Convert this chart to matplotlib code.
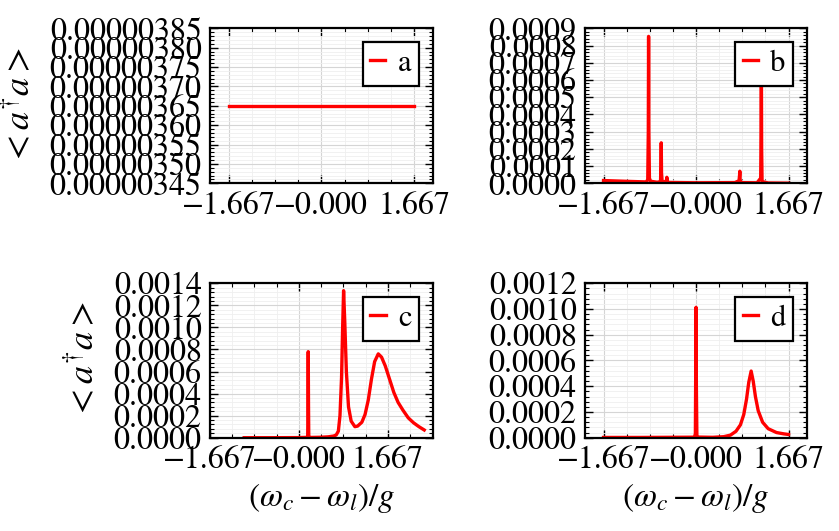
import matplotlib
matplotlib.use("Agg")
import matplotlib.pyplot as plt
from matplotlib.ticker import MultipleLocator, AutoMinorLocator, FormatStrFormatter

plt.rcParams['font.family'] = ['STIXGeneral', 'DejaVu Serif']
plt.rcParams['mathtext.fontset'] = 'stix'
plt.rcParams['font.size'] = 23

# x tick labels shared by all panels
xtick_pos = [-5/3, 0, 5/3]
xtick_labels = ['\u22121.667', '\u22120.000', '1.667']

# panel a: flat
xa = [-1.667, 1.667]
ya = [3.65e-6, 3.65e-6]

# panel b: narrow peaks
xb = [-1.667, -1.2, -0.9, -0.87, -0.86, -0.855, -0.85, -0.84, -0.82, -0.7,
      -0.64, -0.632, -0.627, -0.622, -0.61, -0.55, -0.53, -0.526, -0.52, -0.5,
      0.0, 0.7, 0.775, 0.785, 0.789, 0.795, 0.81, 1.1, 1.165, 1.172,
      1.177, 1.182, 1.19, 1.3, 1.667]
yb = [1.6e-5, 1.1e-5, 8e-6, 2e-5, 3e-4, 8.53e-4, 3e-4, 3e-5, 1.2e-5, 6e-6,
      1e-5, 1e-4, 2.35e-4, 6e-5, 8e-6, 1e-5, 2e-5, 3.5e-5, 1.5e-5, 5e-6,
      3e-6, 4e-6, 1.5e-5, 5e-5, 7e-5, 2e-5, 4e-6, 3e-6, 3e-5, 3e-4,
      7.5e-4, 2e-4, 1e-5, 2e-6, 1e-6]

# panel c
xc = [-1.026, -0.5, 0.0, 0.14, 0.165, 0.17, 0.175, 0.18, 0.185, 0.19,
      0.4, 0.55, 0.65, 0.70, 0.74, 0.77, 0.80, 0.82, 0.838, 0.86,
      0.89, 0.93, 0.98, 1.05, 1.1, 1.18, 1.24, 1.30, 1.36, 1.42,
      1.488, 1.55, 1.62, 1.70, 1.78, 1.86, 1.95, 2.05, 2.15, 2.25, 2.35]
yc = [0.0, 0.0, 1e-6, 3e-6, 5e-6, 3e-4, 7.8e-4, 3e-4, 1e-5, 2e-6,
      4e-6, 8e-6, 1.5e-5, 2.5e-5, 6e-5, 2.0e-4, 5.5e-4, 1.0e-3, 1.333e-3, 1.05e-3,
      6.0e-4, 2.8e-4, 1.5e-4, 1.0e-4, 1.05e-4, 1.4e-4, 2.1e-4, 3.4e-4, 5.3e-4, 6.9e-4,
      7.6e-4, 7.3e-4, 6.5e-4, 5.3e-4, 4.1e-4, 3.2e-4, 2.5e-4, 1.8e-4, 1.35e-4, 1.0e-4, 7e-5]

# panel d
xd = [-1.667, -1.0, -0.5, -0.03, -0.012, -0.006, 0.0, 0.006, 0.015, 0.03,
      0.3, 0.5, 0.62, 0.72, 0.8, 0.86, 0.91, 0.95, 0.993, 1.03,
      1.07, 1.12, 1.2, 1.3, 1.45, 1.58, 1.667]
yd = [2e-6, 2e-6, 3e-6, 4e-6, 3e-5, 5e-4, 1.013e-3, 4e-4, 2e-5, 5e-6,
      3e-6, 8e-6, 2.0e-5, 5.0e-5, 1.0e-4, 1.8e-4, 3.0e-4, 4.3e-4, 5.18e-4, 4.4e-4,
      3.2e-4, 2.1e-4, 1.2e-4, 7e-5, 4e-5, 3e-5, 2.5e-5]

fig = plt.figure(figsize=(8.39, 5.31), dpi=100)

panels = [
    # rect, x, y, label, xlim, ylim, ystep, yfmt
    ([0.2503, 0.6548, 0.2654, 0.2919], xa, ya, 'a', (-2, 2), (3.45e-6, 3.85e-6), 5e-8, '%.8f'),
    ([0.6973, 0.6548, 0.2646, 0.2919], xb, yb, 'b', (-2, 2), (0, 0.0009), 1e-4, '%.4f'),
    ([0.2503, 0.1757, 0.2654, 0.2908], xc, yc, 'c', (-5/3, 2.508), (0, 0.0014), 2e-4, '%.4f'),
    ([0.6973, 0.1757, 0.2646, 0.2908], xd, yd, 'd', (-2, 2), (0, 0.0012), 2e-4, '%.4f'),
]

for i, (rect, x, y, lab, xl, yl, ystep, yfmt) in enumerate(panels):
    ax = fig.add_axes(rect)
    ax.plot(x, y, color='red', lw=2.4, label=lab)
    ax.set_xlim(xl)
    ax.set_ylim(yl)
    ax.set_xticks(xtick_pos)
    ax.set_xticklabels(xtick_labels)
    ax.xaxis.set_minor_locator(AutoMinorLocator(4))
    ax.yaxis.set_major_locator(MultipleLocator(ystep))
    ax.yaxis.set_minor_locator(AutoMinorLocator(5))
    ax.yaxis.set_major_formatter(FormatStrFormatter(yfmt))
    ax.tick_params(which='both', direction='in', top=True, right=True)
    ax.tick_params(which='major', length=6, width=1.0, pad=6)
    ax.tick_params(which='minor', length=3, width=0.8)
    ax.grid(which='major', color='#d5d5d5', lw=0.8)
    ax.grid(which='minor', color='#efefef', lw=0.6)
    ax.set_axisbelow(True)
    for s in ax.spines.values():
        s.set_linewidth(1.6)
    if i % 2 == 0:
        ax.set_ylabel(r'$<a^{\dagger}a>$', fontsize=26, labelpad=8)
    if i >= 2:
        ax.set_xlabel(r'$(\omega_c-\omega_l)/g$', fontsize=24, labelpad=4)
    leg = ax.legend(loc='upper right', fancybox=False, framealpha=1,
                    edgecolor='black', handlelength=0.5, handletextpad=0.4,
                    borderpad=0.25, borderaxespad=0.45, fontsize=22)
    leg.get_frame().set_linewidth(1.6)

fig.savefig('out.png', dpi=100)
